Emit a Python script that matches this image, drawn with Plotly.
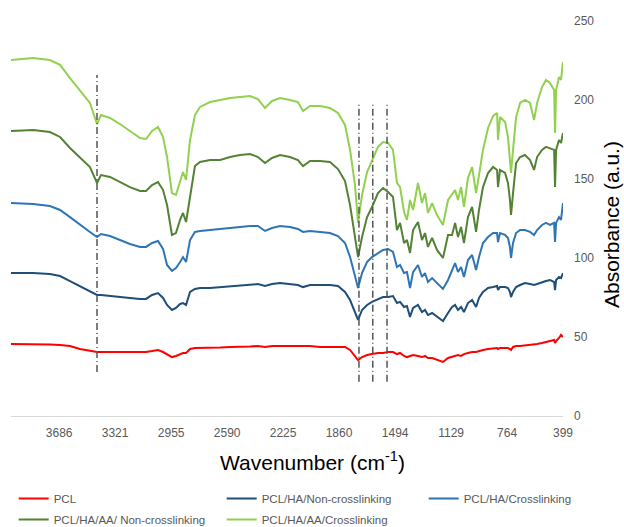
import plotly.graph_objects as go

# FTIR spectra: wavenumber grid (cm-1) shared by all five samples
wavenumber = [4000, 3856, 3746, 3680, 3615, 3550, 3485, 3439, 3413, 3354,
              3289, 3224, 3158, 3119, 3080, 3041, 3008, 2982, 2950, 2924,
              2897, 2878, 2858, 2832, 2800, 2767, 2702, 2636, 2571, 2506,
              2441, 2389, 2343, 2297, 2245, 2180, 2128, 2095, 2049, 1984,
              1919, 1867, 1821, 1788, 1756, 1736, 1710, 1677, 1645, 1606,
              1573, 1540, 1508, 1482, 1462, 1436, 1417, 1397, 1377, 1345,
              1319, 1299, 1280, 1253, 1221, 1182, 1149, 1123, 1103, 1084,
              1064, 1045, 1019, 992, 966, 947, 921, 888, 855, 829,
              823, 810, 777, 758, 745, 738, 725, 705, 679, 647,
              614, 588, 568, 536, 510, 484, 457, 451, 444, 425,
              412, 399]

pcl = [45.6, 45.6, 45.3, 44.9, 44.3, 42.4, 41.1, 40.5, 40.5, 40.5,
       40.5, 40.5, 40.5, 40.5, 41.1, 41.8, 40.5, 39.2, 37.3, 38.0,
       39.2, 39.9, 39.9, 42.4, 43.0, 43.0, 43.0, 43.4, 43.7, 43.7,
       44.0, 44.3, 43.7, 44.3, 44.3, 44.3, 44.3, 44.0, 44.3, 43.7,
       43.7, 43.7, 43.7, 41.8, 38.0, 35.4, 37.3, 38.6, 39.2, 39.9,
       39.9, 40.5, 40.5, 39.2, 39.9, 38.0, 37.3, 38.0, 38.6, 38.0,
       37.3, 38.0, 36.7, 36.7, 35.4, 34.2, 36.7, 37.3, 38.0, 38.6,
       38.0, 39.2, 39.9, 40.5, 40.5, 41.1, 41.8, 42.4, 43.0, 43.0,
       42.4, 43.0, 43.0, 43.0, 42.4, 41.8, 43.7, 44.3, 44.3, 44.6,
       44.9, 45.3, 45.6, 46.2, 46.8, 47.2, 48.1, 46.2, 47.5, 49.4,
       51.3, 50.0]

pcl_ha_noncross = [90.5, 90.5, 89.9, 88.6, 85.4, 82.3, 79.1, 76.6, 76.6, 75.9,
                   75.3, 74.7, 74.1, 74.1, 76.6, 77.8, 74.7, 70.3, 67.1, 68.4,
                   70.9, 71.5, 70.3, 78.5, 80.4, 81.0, 81.0, 81.6, 82.3, 82.9,
                   83.5, 83.5, 82.3, 83.5, 84.2, 83.5, 82.9, 81.6, 82.9, 82.9,
                   82.9, 82.3, 78.5, 73.4, 65.8, 60.8, 67.1, 70.3, 72.2, 74.1,
                   75.3, 75.3, 75.9, 71.5, 72.2, 69.0, 69.6, 62.7, 68.4, 70.3,
                   65.8, 67.1, 63.9, 65.2, 62.7, 60.1, 65.2, 69.0, 70.3, 67.1,
                   69.0, 65.8, 71.5, 73.4, 69.0, 74.7, 78.5, 81.0, 81.6, 82.3,
                   79.7, 81.6, 81.6, 81.0, 78.5, 75.3, 78.5, 81.6, 82.9, 84.2,
                   83.5, 82.9, 83.5, 84.8, 85.4, 86.1, 84.8, 79.7, 86.1, 88.0,
                   87.3, 90.5]

pcl_ha_cross = [134.8, 134.2, 132.9, 130.4, 125.9, 120.9, 116.5, 113.3, 115.2, 113.9,
                111.4, 108.9, 107.0, 107.0, 109.5, 110.8, 105.7, 95.6, 91.8, 93.7,
                97.5, 100.6, 97.5, 111.4, 116.5, 117.1, 117.7, 118.4, 119.0, 119.6,
                120.3, 120.3, 117.1, 119.0, 120.3, 119.6, 118.4, 116.5, 117.1, 116.5,
                115.8, 113.9, 109.5, 100.6, 88.0, 81.0, 90.5, 97.5, 100.6, 103.2,
                105.1, 105.7, 103.8, 94.3, 95.6, 90.5, 91.1, 81.0, 91.1, 95.6,
                88.0, 90.5, 84.8, 87.3, 84.2, 80.4, 86.1, 92.4, 96.8, 91.1,
                94.3, 88.0, 98.7, 101.9, 92.4, 100.6, 109.5, 113.3, 115.8, 115.8,
                110.1, 115.8, 114.6, 112.7, 107.0, 100.0, 109.5, 115.8, 117.7, 117.7,
                116.5, 114.6, 117.7, 120.9, 122.2, 120.9, 122.2, 110.1, 122.2, 125.9,
                124.1, 134.8]

pcl_ha_aa_noncross = [180.4, 181.0, 179.7, 176.6, 169.6, 163.3, 157.6, 147.5, 152.5, 151.3,
                      148.1, 144.9, 142.4, 142.4, 146.2, 148.1, 143.0, 133.5, 114.6, 115.8,
                      124.1, 128.5, 122.8, 139.9, 158.2, 160.8, 162.0, 162.0, 163.9, 165.2,
                      165.8, 163.9, 160.1, 163.3, 165.2, 163.9, 162.0, 158.2, 161.4, 161.4,
                      160.8, 156.3, 148.7, 133.5, 113.9, 100.6, 113.3, 125.9, 132.3, 141.1,
                      144.3, 141.8, 138.6, 117.7, 122.2, 109.5, 111.4, 103.2, 117.7, 122.8,
                      111.4, 115.8, 107.0, 112.7, 105.1, 100.0, 114.6, 114.6, 122.2, 113.3,
                      119.6, 109.5, 125.9, 132.3, 116.5, 130.4, 144.9, 153.8, 157.6, 155.7,
                      144.9, 155.7, 153.8, 147.5, 136.7, 127.2, 141.1, 160.1, 163.9, 165.2,
                      162.0, 155.7, 163.9, 168.4, 170.3, 169.6, 168.4, 144.9, 168.4, 174.7,
                      172.8, 179.1]

pcl_ha_aa_cross = [225.3, 226.6, 225.3, 222.2, 213.9, 205.7, 198.1, 184.8, 190.5, 188.6,
                   184.8, 180.4, 175.9, 175.3, 180.4, 182.9, 176.6, 163.9, 141.1, 139.9,
                   149.4, 154.4, 149.4, 174.7, 190.5, 195.6, 198.7, 200.0, 201.3, 201.9,
                   202.5, 200.6, 194.9, 199.4, 201.3, 200.0, 198.7, 193.0, 196.2, 196.2,
                   194.9, 191.8, 184.2, 168.4, 146.2, 122.2, 139.9, 154.4, 162.0, 170.3,
                   173.4, 172.8, 168.4, 147.5, 144.9, 129.1, 124.1, 136.7, 130.4, 147.5,
                   134.8, 141.1, 128.5, 134.8, 127.2, 120.9, 136.7, 139.9, 143.0, 136.7,
                   144.9, 132.3, 150.6, 157.6, 141.1, 152.5, 168.4, 182.3, 189.9, 191.8,
                   174.7, 189.2, 186.1, 176.6, 162.0, 153.8, 168.4, 189.2, 198.1, 200.0,
                   198.1, 187.3, 198.1, 208.2, 212.7, 210.8, 206.3, 179.1, 206.3, 214.6,
                   212.7, 224.1]

series_names = ["PCL", "PCL/HA/Non-crosslinking", "PCL/HA/Crosslinking",
                "PCL/HA/AA/ Non-crosslinking", "PCL/HA/AA/Crosslinking"]
series_values = [pcl, pcl_ha_noncross, pcl_ha_cross, pcl_ha_aa_noncross, pcl_ha_aa_cross]
series_colors = ["#FF0000", "#1F4E79", "#2E75B6", "#548235", "#92D050"]
# legend block each series is listed in (three entries on the first row, two on the second)
series_legend = ["legend", "legend", "legend2", "legend3", "legend3"]

# x-axis category labels and y-axis ticks
x_tick_labels = [3686, 3321, 2955, 2590, 2225, 1860, 1494, 1129, 764, 399]
y_tick_values = [0, 50, 100, 150, 200, 250]

# characteristic bands marked with dash-dot guides
band_wavenumber = [3439, 1730, 1640, 1547]
band_low = [27.8, 21.7, 21.7, 21.7]
band_high = [215.8, 198.1, 198.1, 198.1]

fig = go.Figure()
for name, vals, color, lg in zip(series_names, series_values, series_colors, series_legend):
    fig.add_trace(go.Scatter(
        x=wavenumber, y=vals, mode="lines", name=name, legend=lg,
        line=dict(color=color, width=2),
    ))

for wn, lo, hi in zip(band_wavenumber, band_low, band_high):
    fig.add_shape(type="line", xref="x", yref="y", x0=wn, x1=wn, y0=lo, y1=hi,
                  line=dict(color="#555555", width=1.5, dash="7px,3px,1px,3px"))

tick_font = dict(family="Liberation Sans, Arial, sans-serif", size=12, color="#595959")
title_font = dict(family="Liberation Sans, Arial, sans-serif", size=21, color="#000000")
legend_font = dict(family="Liberation Sans, Arial, sans-serif", size=11.5, color="#595959")


def legend_block(x_px, y_px):
    return dict(
        orientation="h", xref="container", yref="container",
        x=x_px / 624, y=1 - y_px / 527, xanchor="left", yanchor="top",
        entrywidth=163, entrywidthmode="pixels", itemwidth=30,
        font=legend_font, bgcolor="rgba(0,0,0,0)",
    )


fig.update_layout(
    width=624, height=527,
    margin=dict(l=11, r=61, t=21, b=111),
    paper_bgcolor="white", plot_bgcolor="white",
    xaxis=dict(
        range=[4000, 399], tickmode="array",
        tickvals=x_tick_labels, ticktext=[str(v) for v in x_tick_labels],
        showgrid=False, zeroline=False, showline=True,
        linecolor="#D9D9D9", linewidth=1, ticks="",
        tickfont=tick_font, ticklabelstandoff=6,
    ),
    yaxis=dict(
        range=[0, 250], side="right", tickmode="array", tickvals=y_tick_values,
        showgrid=False, zeroline=False, showline=False, ticks="",
        tickfont=tick_font, ticklabelstandoff=10,
    ),
    legend=legend_block(13.7, 484),
    legend2=legend_block(423.7, 484),
    legend3=legend_block(13.7, 505),
    annotations=[
        dict(text="Wavenumber (cm<sup>-1</sup>)", xref="paper", yref="paper",
             x=(312 - 11) / 552, y=(416 - 461) / 395, xanchor="center", yanchor="middle",
             showarrow=False, font=title_font),
        dict(text="Absorbance (a.u.)", xref="paper", yref="paper",
             x=(611 - 11) / 552, y=(416 - 225) / 395, xanchor="center", yanchor="middle",
             textangle=-90, showarrow=False, font=title_font),
    ],
)

fig.write_html("out.html")
